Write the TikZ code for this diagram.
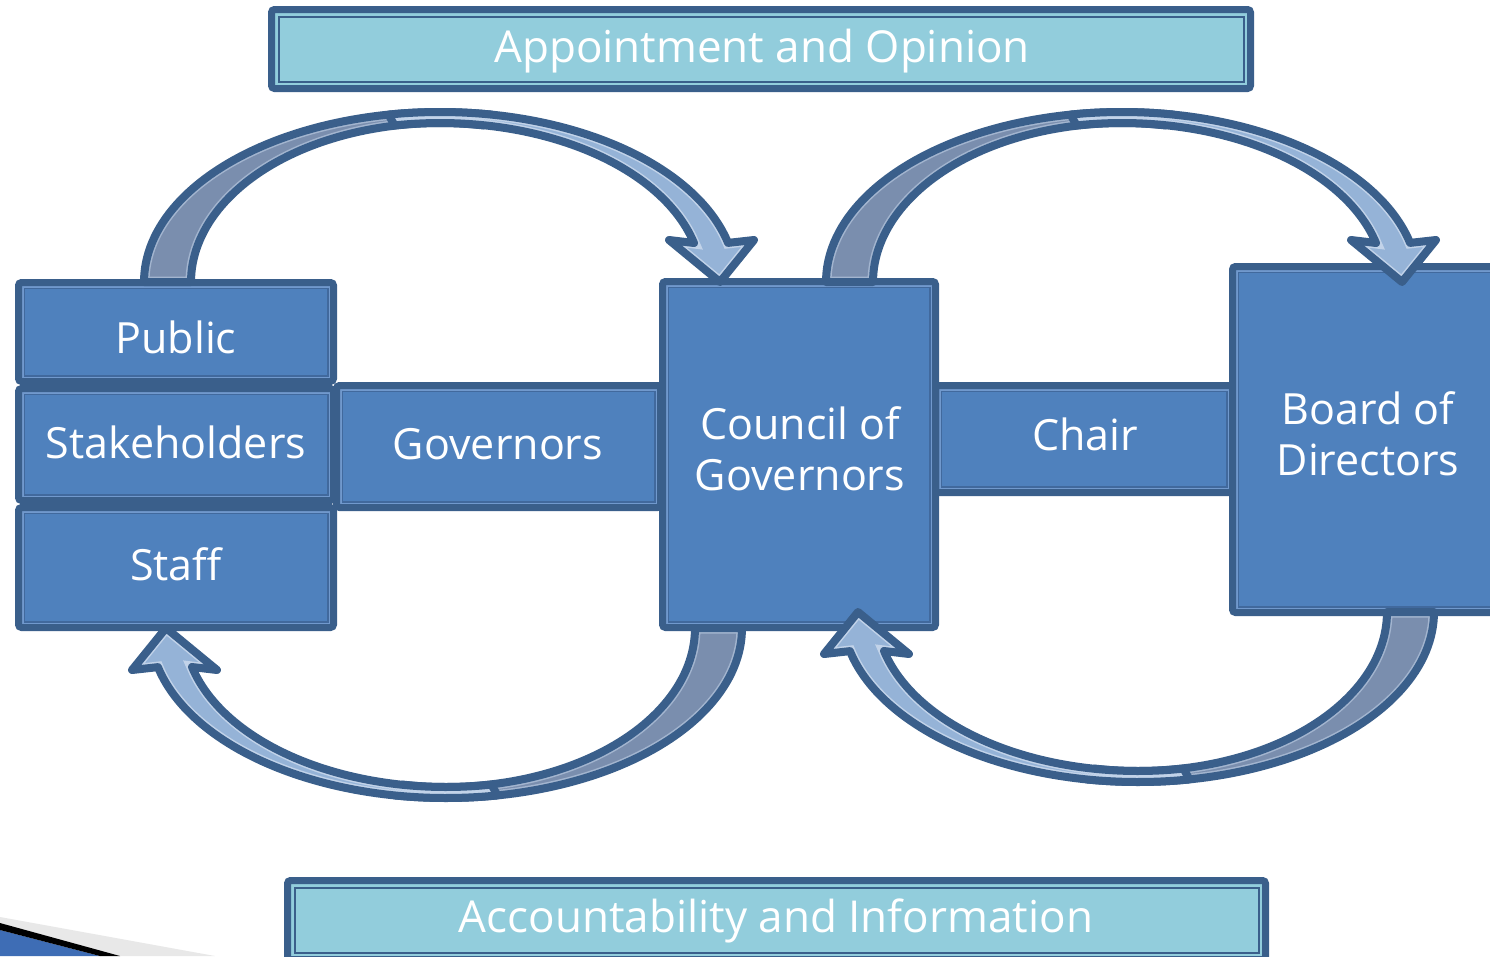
\documentclass[tikz,border=0pt]{standalone}
\usepackage{fontspec}
\setmainfont{Open Sans}
\usetikzlibrary{calc}
\definecolor{bdr}{HTML}{3A5F8B}
\definecolor{boxfill}{HTML}{4F81BD}
\definecolor{boxlight}{HTML}{7199CD}
\definecolor{boxinner}{HTML}{41699D}
\definecolor{bandfill}{HTML}{92CDDC}
\definecolor{arrdark}{HTML}{7A8EAE}
\definecolor{arrdarkline}{HTML}{A3B5CF}
\definecolor{arrlight}{HTML}{95B3D7}
\definecolor{arrlightline}{HTML}{C2D3E9}
\definecolor{cornerblue}{HTML}{3E6DB5}
\newcommand\ArrPiece[3]{%
  \fill[#2] #1;
  \begin{scope}\clip #1; \draw[#3, line width=11pt] #1; \end{scope}
  \draw[bdr, line width=8pt, line join=round] #1;
}
\newcommand\DarkPath{plot[domain=180:80, samples=60] ({296*cos(\x)},{-170*sin(\x)}) -- plot[domain=80:180, samples=60] ({249*cos(\x)},{-159*sin(\x)}) -- cycle}
\newcommand\LightPath{plot[domain=100:13.3, samples=60] ({296*cos(\x)},{-170*sin(\x)}) -- (314,-42) -- (280,0) -- (229,-42) -- plot[domain=14.2:100, samples=60] ({262*cos(\x)},{-159*sin(\x)}) -- cycle}
\newcommand\CurvedArrow{\ArrPiece{\DarkPath}{arrdark}{arrdarkline}\ArrPiece{\LightPath}{arrlight}{arrlightline}}
\begin{document}
\begin{tikzpicture}[x=1pt,y=-1pt,
  pbox/.style={rectangle, draw=bdr, line width=7pt, fill=boxfill, rounded corners=3pt,
    inner sep=0pt, outer sep=0pt,
    path picture={
      \draw[boxlight, line width=1.5pt, sharp corners]
        ([shift={(4.25pt,4.25pt)}]path picture bounding box.south west) rectangle
        ([shift={(-4.25pt,-4.25pt)}]path picture bounding box.north east);
      \draw[boxinner, line width=1.5pt, sharp corners]
        ([shift={(5.75pt,5.75pt)}]path picture bounding box.south west) rectangle
        ([shift={(-5.75pt,-5.75pt)}]path picture bounding box.north east);
    }},
  band/.style={rectangle, draw=bdr, line width=7pt, fill=bandfill, rounded corners=3pt,
    inner sep=0pt, outer sep=0pt,
    path picture={
      \draw[bdr, line width=2pt, sharp corners]
        ([shift={(7pt,7pt)}]path picture bounding box.south west) rectangle
        ([shift={(-7pt,-7pt)}]path picture bounding box.north east);
    }},
  lbl/.style={text=white, font=\fontsize{43}{51}\selectfont, align=center, inner sep=0pt},
  blbl/.style={text=white, font=\fontsize{44}{52}\selectfont, inner sep=0pt}
]
\useasboundingbox (0,0) rectangle (1490,956);
\clip (0,0) rectangle (1490,956);
\fill[white] (0,0) rectangle (1490,956);

% corner decoration
\fill[gray!18] (0,917) -- (215,956) -- (118,956) -- (0,923) -- cycle;
\fill[cornerblue] (0,930) -- (100,956) -- (0,956) -- cycle;
\fill[black] (0,923) -- (120,956) -- (100,956) -- (0,930) -- cycle;

% bands
\node[band, minimum width=979pt, minimum height=79pt] (topband) at (761,49) {};
\node[band, minimum width=978pt, minimum height=79pt] (botband) at (776.5,920) {};
\node[blbl, anchor=base] (tAppt) at (762,62) {Appointment and Opinion};
\node[blbl, anchor=base] (tAcc) at (776,932) {Accountability and Information};

% boxes
\node[pbox, minimum width=324pt, minimum height=122pt] (gov) at (498.5,446.5) {};
\node[pbox, minimum width=297pt, minimum height=107pt] (chair) at (1084,439) {};
\node[pbox, minimum width=315pt, minimum height=99pt] (public) at (176,332) {};
\node[pbox, minimum width=315pt, minimum height=112pt] (stake) at (176,444.5) {};
\node[pbox, minimum width=315pt, minimum height=120pt] (staff) at (176,567.5) {};
\node[pbox, minimum width=273pt, minimum height=346pt] (council) at (799,454.5) {};
\node[pbox, minimum width=271pt, minimum height=346pt] (board) at (1368,439.5) {};

% labels
\node[lbl, anchor=base] (tPublic) at (176,353) {Public};
\node[lbl, anchor=base] (tStake) at (176,458) {Stakeholders};
\node[lbl, anchor=base] (tStaff) at (176,580) {Staff};
\node[lbl, anchor=base] (tGov) at (498,459) {Governors};
\node[lbl, anchor=base] (tChair) at (1085,450) {Chair};
\node[lbl] (tCouncil) at (800,449) {Council of\\Governors};
\node[lbl] (tBoard) at (1368,434) {Board of\\Directors};

% curved arrows
\begin{scope}[shift={(440,282)}]\CurvedArrow\end{scope}
\begin{scope}[shift={(1122,282)}]\CurvedArrow\end{scope}
\begin{scope}[shift={(446,628)}, rotate=180]\CurvedArrow\end{scope}
\begin{scope}[shift={(1138,612)}, rotate=180]\CurvedArrow\end{scope}
\end{tikzpicture}
\end{document}
